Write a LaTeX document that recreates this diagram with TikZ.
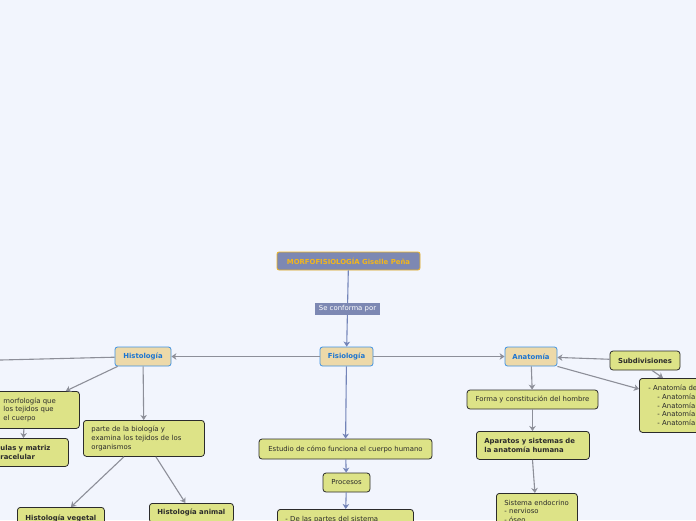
\documentclass[tikz,border=0pt]{standalone}
\usepackage{fontspec}
\setmainfont{DejaVu Sans}
\usetikzlibrary{arrows.meta, positioning}
\definecolor{mfBack}{HTML}{F2F5FD}
\definecolor{mfRoot}{HTML}{7D88B3}
\definecolor{mfGold}{HTML}{F2B61C}
\definecolor{mfTan}{HTML}{EDD9A9}
\definecolor{mfBlue}{HTML}{3F92E2}
\definecolor{mfBlueTxt}{HTML}{1B74D1}
\definecolor{mfLeaf}{HTML}{DDE387}
\definecolor{mfInk}{HTML}{2B2B2B}
\definecolor{lnGrey}{HTML}{8D8F99}
\definecolor{lnBlue}{HTML}{7384B8}

\begin{document}
\begin{tikzpicture}[
    x=1pt, y=-1pt,
    every node/.style={font=\fontsize{6.9}{8.6}\selectfont},
    main/.style={draw=mfGold, line width=0.8pt, rounded corners=2pt, fill=mfRoot,
                 text=mfGold, font=\fontsize{6.9}{8.6}\selectfont\bfseries,
                 minimum width=143, minimum height=18, inner sep=2pt},
    lbl/.style={fill=mfRoot, text=white, minimum width=65, minimum height=12, inner sep=1pt},
    topic/.style={draw=mfBlue, line width=0.8pt, rounded corners=2.5pt, fill=mfTan,
                  text=mfBlueTxt, font=\fontsize{6.9}{8.6}\selectfont\bfseries,
                  minimum height=19, inner sep=2pt},
    leaf/.style={draw=mfInk, line width=0.8pt, rounded corners=3pt, fill=mfLeaf,
                 text=mfInk, minimum height=19, inner sep=2pt},
    leafb/.style={leaf, font=\fontsize{6.9}{8.6}\selectfont\bfseries},
    para/.style={leaf, anchor=north west, align=left, inner xsep=8pt},
    parab/.style={para, font=\fontsize{6.9}{8.6}\selectfont\bfseries},
    fw/.style={-{Stealth[length=5pt, width=6.5pt, inset=1.5pt]}, line width=1.1pt, draw=lnGrey},
    fwb/.style={fw, draw=lnBlue},
  ]
  \fill[mfBack] (0,0) rectangle (696,520);
  \clip (0,0) rectangle (696,520);

  % centre column
  \node[main] (root) at (348.5,261) {MORFOFISIOLOGÍA Giselle Peña};
  \node[topic, minimum width=53] (fis) at (346.5,356.5) {Fisiología};
  \node[leaf, minimum width=173, minimum height=20] (estu) at (345.5,449) {Estudio de cómo funciona el cuerpo humano};
  \node[leaf, minimum width=47] (proc) at (346.5,482.5) {Procesos};
  \node[para, text width=120, minimum height=20] (part) at (277,509) {- De las partes del sistema};
  \draw[fwb] (root) -- node[lbl] (conf) {Se conforma por} (fis);
  \draw[fwb] (fis) -- (estu);
  \draw[fwb] (estu) -- (proc);
  \draw[fwb] (proc) -- (part);

  % histologia
  \node[topic, minimum width=56] (his) at (143,356.5) {Histología};
  \coordinate (offl) at (-40,361);
  \node[para, text width=63, minimum height=37, inner xsep=13pt] (morf) at (-10,391)
    {morfología que\\los tejidos que\\el cuerpo};
  \node[parab, text width=60, minimum height=28] (cel) at (-8,438)
    {ulas y matriz\\racelular};
  \node[para, text width=105, minimum height=36] (biol) at (83,420)
    {parte de la biología y\\examina los tejidos de los\\organismos};
  \node[leafb, minimum width=87, minimum height=22, anchor=north west] (veg) at (17,507) {Histología vegetal};
  \node[leafb, minimum width=84, anchor=north west] (ani) at (149,503) {Histología animal};
  \draw[fw] (fis) -- (his);
  \draw[fw] (his) -- (offl);
  \draw[fw] ([xshift=3]his.south west) -- ([xshift=-14]morf.north east);
  \draw[fw] (his) -- (biol);
  \draw[fw] ([xshift=-11]morf.south) -- ([xshift=-7]cel.north);
  \draw[fw] ([xshift=-20]biol.south) -- ([xshift=10]veg.north);
  \draw[fw] ([xshift=12]biol.south) -- ([xshift=-6]ani.north);

  % anatomia
  \node[topic, minimum width=52] (ana) at (531,356.5) {Anatomía};
  \node[leafb, minimum width=70] (sub) at (645,360.5) {Subdivisiones};
  \node[para, text width=64, minimum height=54, inner xsep=9pt] (anad) at (639,378)
    {- Anatomía de\\\hspace*{9pt}- Anatomía\\\hspace*{9pt}- Anatomía\\\hspace*{9pt}- Anatomía\\\hspace*{9pt}- Anatomía};
  \node[leaf, minimum width=131] (forma) at (532.5,399.5) {Forma y constitución del hombre};
  \node[parab, text width=97, minimum height=28] (apar) at (476,431)
    {Aparatos y sistemas de\\la anatomía humana};
  \node[para, text width=65, minimum height=36] (sist) at (496,493)
    {Sistema endocrino\\- nervioso\\- óseo};
  \draw[fw] (fis) -- (ana);
  \draw[fw] (sub) -- (ana);
  \draw[fw] (ana.south east) -- ([yshift=-11]anad.north west);
  \draw[fw] ([xshift=7]sub.south) -- ([xshift=24]anad.north west);
  \draw[fw] (ana) -- (forma);
  \draw[fw] (forma) -- (apar.north -| forma);
  \draw[fw] (apar.south -| forma) -- ([xshift=-2]sist.north);
\end{tikzpicture}
\end{document}
